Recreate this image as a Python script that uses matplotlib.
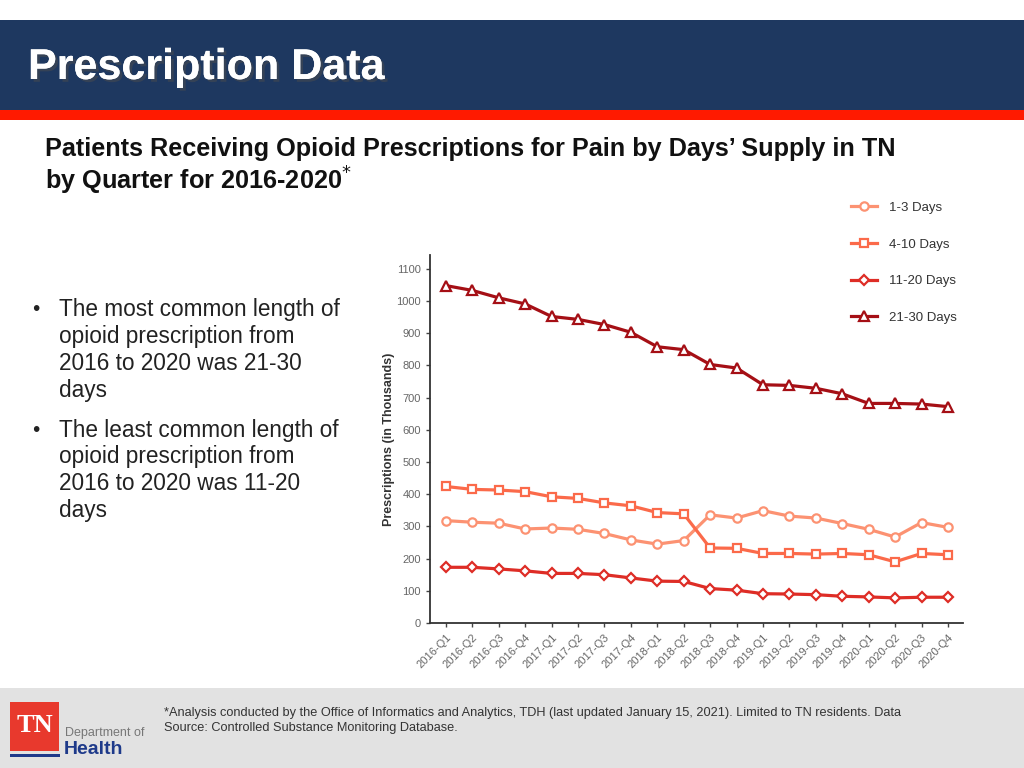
import matplotlib
matplotlib.use("Agg")
import matplotlib.pyplot as plt
from matplotlib.patches import Rectangle
import matplotlib.patheffects as pe

quarters = ["2016-Q1", "2016-Q2", "2016-Q3", "2016-Q4",
            "2017-Q1", "2017-Q2", "2017-Q3", "2017-Q4",
            "2018-Q1", "2018-Q2", "2018-Q3", "2018-Q4",
            "2019-Q1", "2019-Q2", "2019-Q3", "2019-Q4",
            "2020-Q1", "2020-Q2", "2020-Q3", "2020-Q4"]
days_1_3 = [318, 313, 310, 292, 295, 291, 278, 258, 245, 256,
            336, 326, 349, 332, 326, 309, 291, 267, 312, 297]
days_4_10 = [424, 415, 413, 408, 392, 387, 373, 364, 343, 339,
             233, 232, 216, 216, 214, 216, 212, 190, 216, 212]
days_11_20 = [173, 173, 168, 162, 154, 154, 150, 140, 130, 129,
              107, 102, 91, 90, 88, 83, 81, 78, 80, 80]
days_21_30 = [1048, 1033, 1010, 991, 952, 943, 927, 903, 858, 849,
              803, 792, 740, 738, 729, 712, 682, 682, 680, 672]
series_labels = ["1-3 Days", "4-10 Days", "11-20 Days", "21-30 Days"]
yticks = [0, 100, 200, 300, 400, 500, 600, 700, 800, 900, 1000, 1100]

FONT = ["Liberation Sans", "DejaVu Sans"]
plt.rcParams["font.family"] = FONT

W, H = 1024, 768
fig = plt.figure(figsize=(W / 100, H / 100), dpi=100)
fig.patch.set_facecolor("white")

def rect(x0, y0, x1, y1, color):
    fig.patches.append(Rectangle((x0 / W, 1 - y1 / H), (x1 - x0) / W, (y1 - y0) / H,
                                 transform=fig.transFigure, facecolor=color,
                                 edgecolor="none", zorder=0))

# header banner
rect(0, 20, W, 110, "#1E3860")
rect(0, 110, W, 120, "#FF1A00")
fig.text(28 / W, 1 - 68 / H, "Prescription Data", color="white", fontsize=31,
         fontweight="bold", va="center", ha="left",
         path_effects=[pe.withSimplePatchShadow(offset=(2, -2), alpha=0.5), pe.Normal()])

# subtitle
fig.text(45 / W, 1 - 149 / H,
         "Patients Receiving Opioid Prescriptions for Pain by Days\u2019 Supply in TN",
         fontsize=18.2, fontweight="bold", va="center", ha="left",
         color="#111111")
fig.text(45 / W, 1 - 181 / H, r"by Quarter for 2016-2020$^{*}$",
         fontsize=18.2, fontweight="bold", va="center", ha="left",
         color="#111111")

# bullets
bullets = [(310, ["The most common length of", "opioid prescription from",
                  "2016 to 2020 was 21-30", "days"]),
           (430, ["The least common length of", "opioid prescription from",
                  "2016 to 2020 was 11-20", "days"])]
for y0, lines in bullets:
    fig.text(32 / W, 1 - y0 / H, "\u2022", fontsize=15, va="center", ha="left", color="#222222")
    for i, ln in enumerate(lines):
        fig.text(59 / W, 1 - (y0 + i * 27) / H, ln, fontsize=16.3, va="center",
                 ha="left", color="#222222")

# footer
rect(0, 688, W, H, "#E2E2E2")
fig.text(164 / W, 1 - 713 / H,
         "*Analysis conducted by the Office of Informatics and Analytics, TDH (last updated January 15, 2021). Limited to TN residents. Data",
         fontsize=9.2, va="center", ha="left", color="#333333")
fig.text(164 / W, 1 - 728 / H, "Source: Controlled Substance Monitoring Database.",
         fontsize=9.2, va="center", ha="left", color="#333333")
# logo
rect(10, 702, 59, 751, "#E8392D")
rect(10, 754, 60, 757, "#1E3A8A")
fig.text(34.5 / W, 1 - 726 / H, "TN", fontsize=19, fontweight="bold",
         family=["Liberation Serif", "DejaVu Serif"],
         color="white", ha="center", va="center")
fig.text(65 / W, 1 - 733 / H, "Department of", fontsize=9, color="#777777",
         ha="left", va="center")
fig.text(64 / W, 1 - 750 / H, "Health", fontsize=14, fontweight="bold", color="#1E3A8A",
         ha="left", va="center")

# chart
ax = fig.add_axes([430 / W, 1 - 623 / H, (963 - 430) / W, (623 - 255) / H])
x = list(range(len(quarters)))
colors = ["#FC9272", "#FB6A4A", "#DE2D26", "#A50F15"]
markers = ["o", "s", "D", "^"]
msizes = [6, 6, 5.5, 7]
data = [days_1_3, days_4_10, days_11_20, days_21_30]
handles = []
for d, c, m, ms, lab in zip(data, colors, markers, msizes, series_labels):
    h, = ax.plot(x, d, color=c, lw=2.3, marker=m, ms=ms, mfc="white", mec=c,
                 mew=1.6, label=lab, zorder=3)
    handles.append(h)

ax.set_xlim(-0.6, 19.57)
ax.set_ylim(0, 1143)
ax.set_yticks(yticks)
ax.set_xticks(x)
ax.set_xticklabels(quarters, rotation=45, ha="right", rotation_mode="anchor")
ax.tick_params(axis="both", colors="#444444", labelcolor="#666666", labelsize=8,
               length=3, width=1)
for s in ["top", "right"]:
    ax.spines[s].set_visible(False)
for s in ["left", "bottom"]:
    ax.spines[s].set_color("#333333")
    ax.spines[s].set_linewidth(1.3)
ax.set_ylabel("Prescriptions (in Thousands)", fontsize=9, fontweight="bold",
              color="#333333", labelpad=1)
ax.set_facecolor("white")

fig.legend(handles=handles, labels=series_labels, loc="upper left",
           bbox_to_anchor=(839 / W, 1 - 190 / H), frameon=False, fontsize=9.5,
           labelspacing=1.85, handlelength=2.0, handletextpad=0.9,
           labelcolor="#333333")

fig.savefig("out.png", dpi=100)
